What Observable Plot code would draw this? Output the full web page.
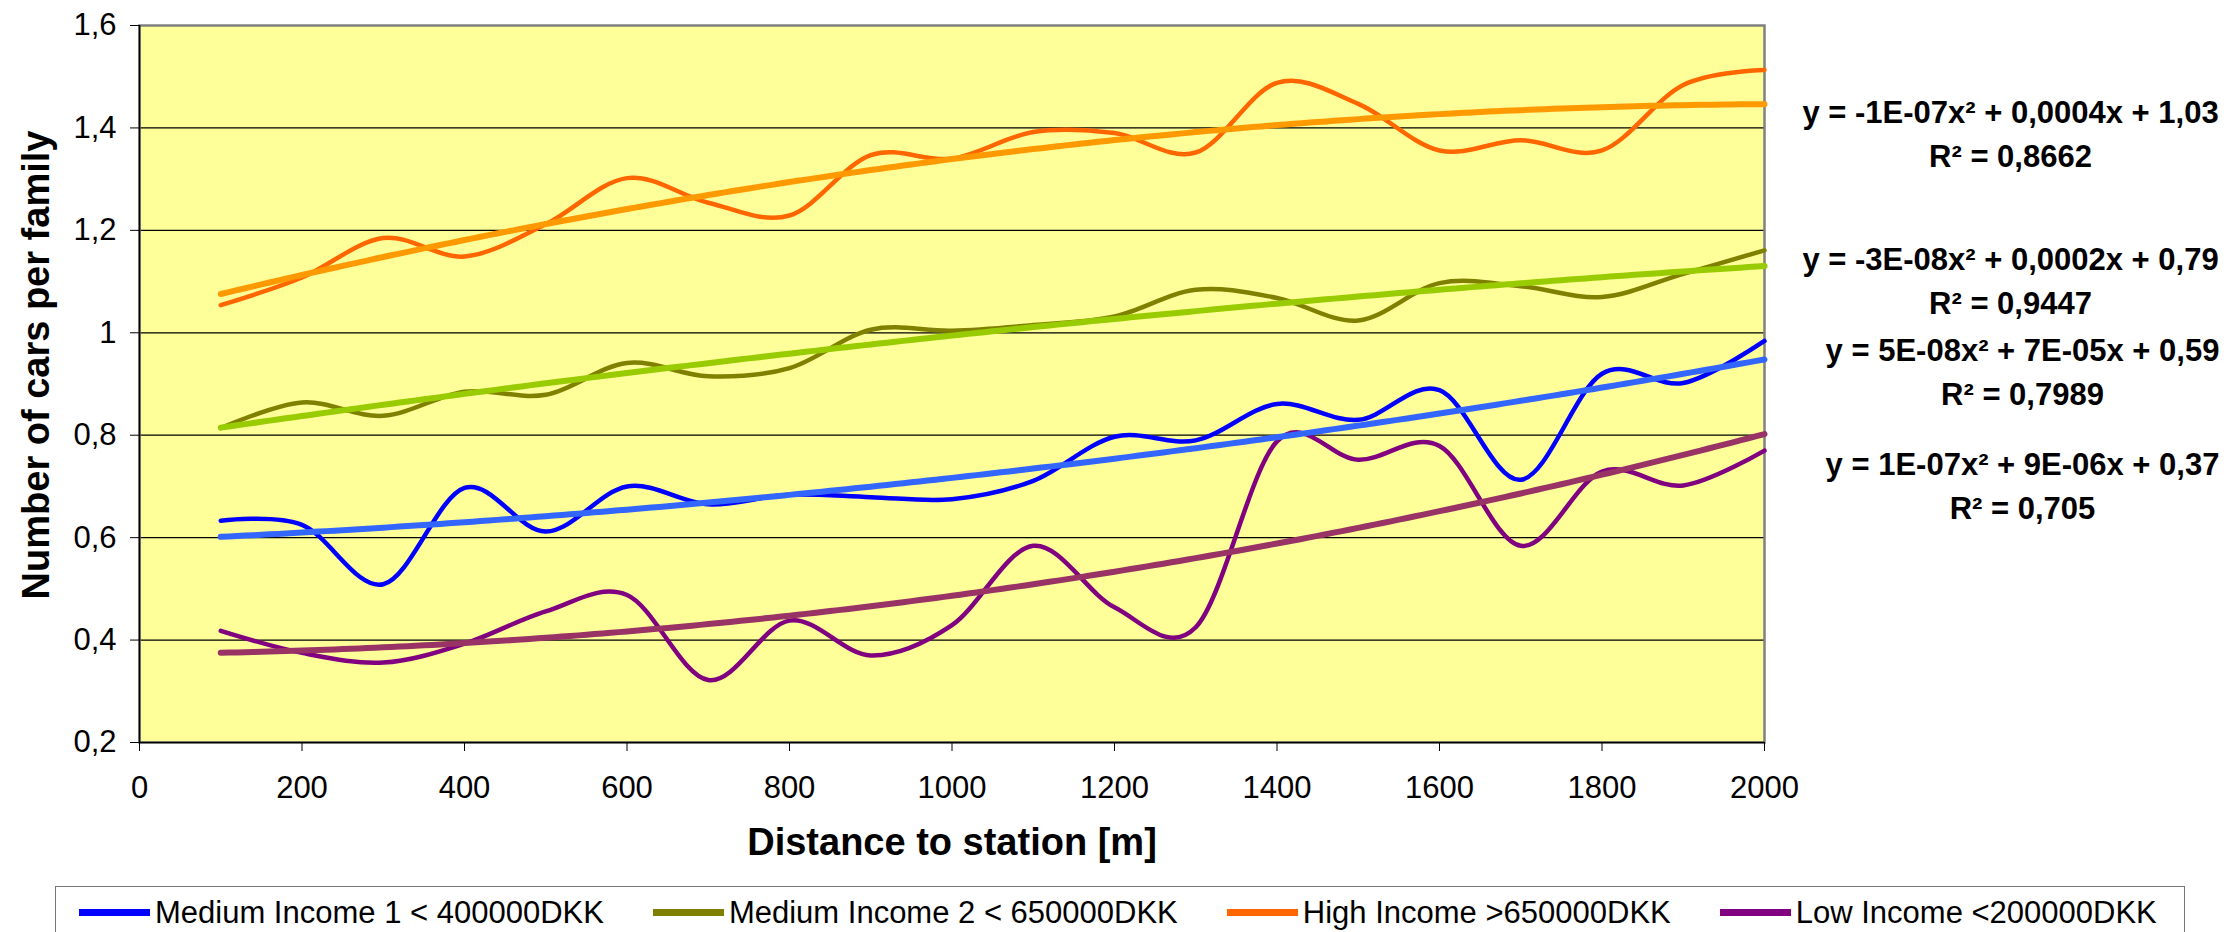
<!DOCTYPE html>
<html><head><meta charset="utf-8">
<script src="https://cdn.jsdelivr.net/npm/d3@7"></script>
<script src="https://cdn.jsdelivr.net/npm/@observablehq/plot@0.6"></script>
<style>
body{margin:0;background:#fff;font-family:'Liberation Sans',Arial,sans-serif;}
#wrap{position:relative;width:2228px;height:932px;overflow:hidden;background:#fff;}
#chart{position:absolute;left:0;top:0;}
#legend{position:absolute;left:55px;top:886px;width:2130px;height:70px;border:1px solid #777;box-sizing:border-box;display:flex;align-items:flex-start;padding:10px 0 0 23px;font-size:31px;line-height:31px;color:#000;}
.item{display:flex;align-items:center;margin-right:49px;white-space:nowrap;}
.sw{width:71px;height:7px;margin-right:5px;}
</style></head>
<body>
<div id="wrap"><div id="chart"></div><div id="legend"></div></div>
<script>
// ---- data ----
const distance = [100,200,300,400,500,600,700,800,900,1000,1100,1200,1300,1400,1500,1600,1700,1800,1900,2000];
const medium1 = [0.633,0.625,0.509,0.697,0.612,0.700,0.665,0.684,0.679,0.675,0.711,0.797,0.790,0.861,0.830,0.888,0.713,0.920,0.902,0.984];
const medium2 = [0.814,0.864,0.838,0.885,0.879,0.941,0.915,0.931,1.006,1.004,1.015,1.032,1.084,1.068,1.024,1.097,1.091,1.070,1.115,1.161];
const high    = [1.054,1.108,1.185,1.149,1.212,1.302,1.254,1.229,1.347,1.340,1.392,1.390,1.352,1.488,1.447,1.356,1.376,1.356,1.484,1.513];
const low     = [0.418,0.375,0.356,0.393,0.456,0.488,0.322,0.438,0.370,0.429,0.584,0.464,0.425,0.788,0.752,0.779,0.584,0.729,0.702,0.770];
const seriesNames = ["Medium Income 1 < 400000DKK","Medium Income 2 < 650000DKK","High Income >650000DKK","Low Income <200000DKK"];
const xTicks = [0,200,400,600,800,1000,1200,1400,1600,1800,2000];
const xTickLabels = ["0","200","400","600","800","1000","1200","1400","1600","1800","2000"];
const yTicks = [0.2,0.4,0.6,0.8,1.0,1.2,1.4,1.6];
const yTickLabels = ["0,2","0,4","0,6","0,8","1","1,2","1,4","1,6"];
const equations = [
  "y = -1E-07x² + 0,0004x + 1,03\nR² = 0,8662",
  "y = -3E-08x² + 0,0002x + 0,79\nR² = 0,9447",
  "y = 5E-08x² + 7E-05x + 0,59\nR² = 0,7989",
  "y = 1E-07x² + 9E-06x + 0,37\nR² = 0,705"
];
const xTitle = "Distance to station [m]";
const yTitle = "Number of cars per family";

// ---- styles ----
const seriesColors = ["#0000FF","#808000","#FF6600","#800080"];
const trendColors  = ["#3366FF","#99CC00","#FF9900","#993366"];
const eqY  = [1.395, 1.108, 0.930, 0.706];   // label block placement (y units)
const eqDx = [246, 246, 258, 258];

// ---- build ----
const seriesValues = [medium1, medium2, high, low];
const rows = seriesValues.map(vals => distance.map((d, i) => ({distance: d, value: vals[i]})));

function quadFit(xs, ys) {
  const s = [0,0,0,0,0], t = [0,0,0];
  xs.forEach((x0, i) => {
    const x = x0 / 1000; let p = 1;
    for (let k = 0; k < 5; k++) { s[k] += p; if (k < 3) t[k] += p * ys[i]; p *= x; }
  });
  const A = [[s[0],s[1],s[2],t[0]],[s[1],s[2],s[3],t[1]],[s[2],s[3],s[4],t[2]]];
  for (let c = 0; c < 3; c++) {
    for (let r = c + 1; r < 3; r++) {
      const f = A[r][c] / A[c][c];
      for (let k = c; k < 4; k++) A[r][k] -= f * A[c][k];
    }
  }
  const a = [0,0,0];
  for (let r = 2; r >= 0; r--) {
    let v = A[r][3];
    for (let k = r + 1; k < 3; k++) v -= A[r][k] * a[k];
    a[r] = v / A[r][r];
  }
  return x => a[0] + a[1] * (x / 1000) + a[2] * (x / 1000) ** 2;
}
const xMin = d3.min(distance), xMax = d3.max(distance);
const trendRows = seriesValues.map(vals => {
  const f = quadFit(distance, vals);
  return d3.range(xMin, xMax + 0.001, 10).map(x => ({distance: x, value: f(x)}));
});

const marks = [
  Plot.frame({fill: "#FFFF99"}),
  Plot.ruleY(yTicks.slice(1, -1), {stroke: "#000", strokeWidth: 1.2}),
  Plot.frame({stroke: "#808080", strokeWidth: 2.5}),
  Plot.ruleX([0], {stroke: "#000", strokeWidth: 1.6}),
  Plot.ruleY([0.2], {stroke: "#000", strokeWidth: 1.6}),
  Plot.axisX({ticks: xTicks, tickSize: 9, tickPadding: 24, fontSize: 31, label: null,
    tickFormat: d => xTickLabels[xTicks.indexOf(d)]}),
  Plot.axisY({ticks: yTicks, tickSize: 9, tickPadding: 14, fontSize: 31, label: null,
    tickFormat: d => yTickLabels[yTicks.indexOf(d)]}),
];
rows.forEach((r, i) => marks.push(Plot.line(r, {x: "distance", y: "value", stroke: seriesColors[i], strokeWidth: 4.5, curve: "cardinal"})));
trendRows.forEach((r, i) => marks.push(Plot.line(r, {x: "distance", y: "value", stroke: trendColors[i], strokeWidth: 6})));
equations.forEach((e, i) => marks.push(Plot.text([e], {x: () => xMax, y: () => eqY[i], dx: eqDx[i], fontSize: 31, fontWeight: "bold", textAnchor: "middle", lineAnchor: "middle", lineHeight: 1.42})));
marks.push(Plot.text([xTitle], {frameAnchor: "bottom", dy: 100, fontSize: 38, fontWeight: "bold", textAnchor: "middle", lineAnchor: "middle"}));
marks.push(Plot.text([yTitle], {frameAnchor: "left", rotate: -90, dx: -103, dy: -19, fontSize: 38, fontWeight: "bold", textAnchor: "middle", lineAnchor: "middle"}));

const chart = Plot.plot({
  width: 2228, height: 880,
  marginLeft: 139, marginRight: 464, marginTop: 25, marginBottom: 138,
  style: {fontFamily: "'Liberation Sans', Arial, sans-serif", fontSize: "31px", background: "#fff", color: "#000", overflow: "visible"},
  x: {domain: [0, 2000]},
  y: {domain: [0.2, 1.6]},
  marks
});
document.getElementById("chart").appendChild(chart);

const legend = document.getElementById("legend");
seriesNames.forEach((name, i) => {
  const it = document.createElement("div"); it.className = "item";
  const sw = document.createElement("div"); sw.className = "sw"; sw.style.background = seriesColors[i];
  const tx = document.createElement("span"); tx.textContent = name;
  it.appendChild(sw); it.appendChild(tx); legend.appendChild(it);
});
</script>
</body></html>
